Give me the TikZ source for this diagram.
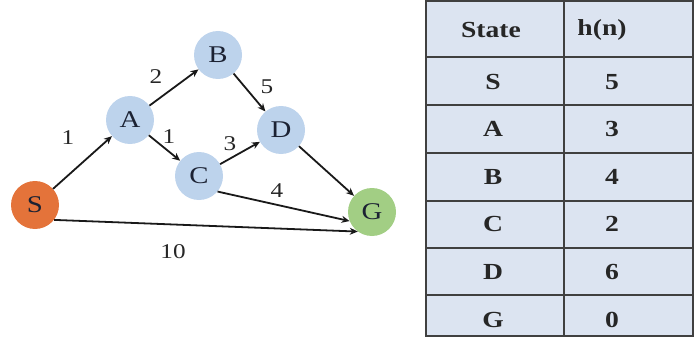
\documentclass[tikz,border=0pt]{standalone}
\usepackage{fontspec}
\setmainfont{Liberation Serif}
\newfontfamily\widefont[FakeStretch=1.2]{Liberation Serif}
\usetikzlibrary{arrows.meta}
\definecolor{sorange}{HTML}{E4733A}
\definecolor{nblue}{HTML}{BDD3EC}
\definecolor{ggreen}{HTML}{A2CE84}
\definecolor{tfill}{HTML}{DCE4F1}
\definecolor{ntext}{HTML}{1C2233}
\begin{document}
\begin{tikzpicture}[x=1pt,y=-1pt,
  state/.style={circle, minimum size=48pt, inner sep=0pt, font=\widefont\fontsize{24}{24}\selectfont, text=ntext},
  edge/.style={draw=black!90, line width=1.8pt, -{Stealth[length=8pt,width=7pt]}},
  wlabel/.style={font=\widefont\fontsize{21}{21}\selectfont, text=black!85},
  cell/.style={font=\widefont\bfseries\fontsize{23}{23}\selectfont, text=black!85},
  grid/.style={draw=black!75, line width=1.5pt}]
\useasboundingbox (0,0) rectangle (694,337);
% graph
\node[state, fill=sorange] (S) at (35,205) {S};
\node[state, fill=nblue] (A) at (130,120) {A};
\node[state, fill=nblue] (B) at (218,55) {B};
\node[state, fill=nblue] (C) at (199,176) {C};
\node[state, fill=nblue] (D) at (281,130) {D};
\node[state, fill=ggreen] (G) at (372,212) {G};
\draw[edge] (S) -- (A);
\draw[edge] (A) -- (B);
\draw[edge] (B) -- (D);
\draw[edge] (A) -- (C);
\draw[edge] (C) -- (D);
\draw[edge] (D) -- (G);
\draw[edge] (C.-40) -- (G.-158);
\draw[edge] (S.-38) -- (G.-126);
\node[wlabel] (l1) at (68,138) {1};
\node[wlabel] (l2) at (156,77) {2};
\node[wlabel] (l3) at (267,87) {5};
\node[wlabel] (l4) at (169,137) {1};
\node[wlabel] (l5) at (230,144) {3};
\node[wlabel] (l6) at (277,191) {4};
\node[wlabel] (l7) at (173,252) {10};
% table
\draw[grid, fill=tfill] (426,1) rectangle (693,336);
\foreach \yy in {57,105,153,201,248,295} \draw[grid] (426,\yy) -- (693,\yy);
\draw[grid] (564,1) -- (564,336);
\node[cell] (h1) at (491,30) {State};
\node[cell] (h2) at (602,30) {h(n)};
\node[cell] (sS) at (493,82) {S};  \node[cell] (vS) at (612,82) {5};
\node[cell] (sA) at (493,129) {A}; \node[cell] (vA) at (612,129) {3};
\node[cell] (sB) at (493,177) {B}; \node[cell] (vB) at (612,177) {4};
\node[cell] (sC) at (493,224) {C}; \node[cell] (vC) at (612,224) {2};
\node[cell] (sD) at (493,272) {D}; \node[cell] (vD) at (612,272) {6};
\node[cell] (sG) at (493,320) {G}; \node[cell] (vG) at (612,320) {0};
\end{tikzpicture}
\end{document}
